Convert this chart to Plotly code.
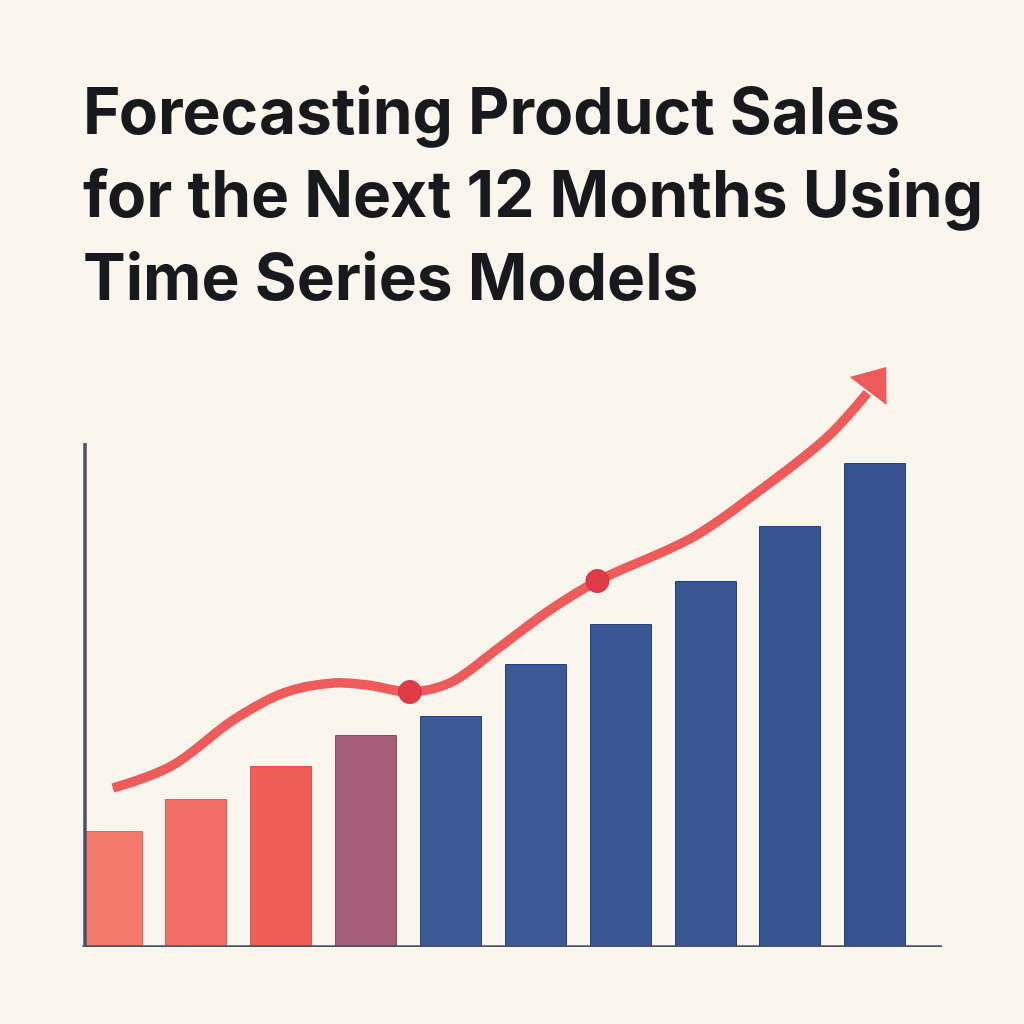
import plotly.graph_objects as go

# monthly sales (history + forecast), bar heights
months = [1, 2, 3, 4, 5, 6, 7, 8, 9, 10]
sales = [115, 147, 180, 211, 230, 282, 322, 365, 420, 483]
bar_colors = ["#F37A6C", "#F26F67", "#EE5D58", "#A65E79",
              "#3C5A96", "#3B5994", "#395793", "#385692", "#365591", "#35538F"]
bar_edges = ["#F2625C", "#F0605A", "#EC4D4B", "#8E4A66",
             "#23408A", "#23408A", "#23408A", "#23408A", "#23408A", "#23408A"]

# forecast trend curve
trend_x = [1.01, 1.7, 2.43, 3.02, 3.61, 4.01, 4.51, 4.98, 5.57, 6.16, 6.72, 7.85, 8.64, 9.43, 9.9]
trend_y = [159, 181, 227, 254, 264, 262, 255, 264, 300, 337, 366, 410, 457, 510, 554]

# highlighted points on the trend
dot_x = [4.51, 6.72]
dot_y = [255, 366]

# arrow head at the end of the trend
head_x = [9.98]
head_y = [564]

fig = go.Figure()

fig.add_trace(go.Bar(
    x=months,
    y=sales,
    width=0.72,
    marker=dict(color=bar_colors, line=dict(color=bar_edges, width=1)),
    hoverinfo="skip",
))

fig.add_trace(go.Scatter(
    x=trend_x,
    y=trend_y,
    mode="lines",
    line=dict(color="#EF5A5A", width=9.5, shape="spline", smoothing=1.0),
    cliponaxis=False,
    hoverinfo="skip",
))

fig.add_trace(go.Scatter(
    x=head_x,
    y=head_y,
    mode="markers",
    marker=dict(symbol="triangle-up", size=40, angle=37, color="#EF5A5A",
                line=dict(width=0)),
    cliponaxis=False,
    hoverinfo="skip",
))

fig.add_trace(go.Scatter(
    x=dot_x,
    y=dot_y,
    mode="markers",
    marker=dict(size=23, color="#E03B47", line=dict(color="#D42F3D", width=1)),
    cliponaxis=False,
    hoverinfo="skip",
))

# axis lines
fig.add_shape(type="line", xref="paper", yref="y", x0=0, x1=0, y0=0, y1=504,
              line=dict(color="#4A5362", width=3.5))
fig.add_shape(type="line", xref="paper", yref="y", x0=-0.003, x1=1, y0=0, y1=0,
              line=dict(color="#4A5362", width=3.5))

fig.update_layout(
    width=1024,
    height=1024,
    paper_bgcolor="#FAF6ED",
    plot_bgcolor="#FAF6ED",
    showlegend=False,
    margin=dict(l=85, r=82, t=350, b=77),
    bargap=0,
    title=dict(
        text="Forecasting Product Sales<br>for the Next 12 Months Using<br>Time Series Models",
        font=dict(family="Inter", size=64, color="#17191C", weight=700),
        xref="container",
        yref="container",
        x=83 / 1024,
        xanchor="left",
        y=1 - 134 / 1024,
        yanchor="top",
    ),
)

fig.update_xaxes(range=[0.682, 10.78], visible=False)
fig.update_yaxes(range=[0, 597], visible=False)

fig.write_html(
    "out.html",
    config={"displayModeBar": False},
    post_script="document.body.style.margin='0';document.body.style.background='#FAF6ED';",
)
